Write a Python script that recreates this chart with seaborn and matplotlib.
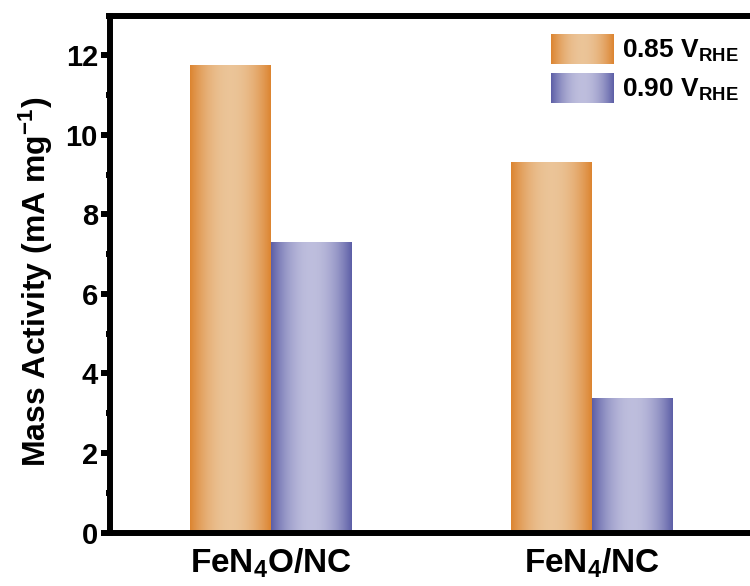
import numpy as np
import pandas as pd
import matplotlib
matplotlib.use("Agg")
import matplotlib.pyplot as plt
import seaborn as sns
from matplotlib.ticker import MultipleLocator
from matplotlib.legend_handler import HandlerBase
from matplotlib.image import BboxImage
from matplotlib.transforms import Bbox, TransformedBbox
from matplotlib.patches import Patch

# ---- data ----
catalysts = ["FeN$_4$O/NC", "FeN$_4$/NC"]
potentials = ["0.85 V$_{RHE}$", "0.90 V$_{RHE}$"]
activity_085 = [11.74, 9.28]
activity_090 = [7.27, 3.35]

df = pd.DataFrame({
    "catalyst": catalysts * 2,
    "potential": [potentials[0]] * 2 + [potentials[1]] * 2,
    "activity": activity_085 + activity_090,
})

# edge (dark) and centre (light) colours of the shaded bars
dark = {potentials[0]: (0.863, 0.518, 0.188), potentials[1]: (0.361, 0.369, 0.651)}
light = {potentials[0]: (0.922, 0.769, 0.596), potentials[1]: (0.745, 0.745, 0.867)}


def shade(pot, n=256):
    u = np.linspace(0, 1, n)
    t = np.abs(2 * u - 1) ** 2.0
    d = np.array(dark[pot])
    l = np.array(light[pot])
    cols = l[None, :] + (d - l)[None, :] * t[:, None]
    return cols[None, :, :]


sns.set_theme(style="white")
plt.rcParams["font.family"] = ["Liberation Sans", "DejaVu Sans"]
plt.rcParams["font.weight"] = "bold"
plt.rcParams["text.color"] = "black"
plt.rcParams["axes.labelcolor"] = "black"
plt.rcParams["xtick.color"] = "black"
plt.rcParams["ytick.color"] = "black"
plt.rcParams["mathtext.fontset"] = "custom"
plt.rcParams["mathtext.rm"] = "Liberation Sans:bold"
plt.rcParams["mathtext.bf"] = "Liberation Sans:bold"
plt.rcParams["mathtext.it"] = "Liberation Sans:bold"
plt.rcParams["mathtext.sf"] = "Liberation Sans:bold"
plt.rcParams["mathtext.default"] = "rm"

fig = plt.figure(figsize=(7.5, 5.86), dpi=100)
ax = fig.add_axes([110 / 750, (586 - 532.5) / 586, 642 / 750, 517 / 586])

sns.barplot(data=df, x="catalyst", y="activity", hue="potential",
            hue_order=potentials, order=catalysts,
            palette=[dark[p] for p in potentials], width=0.5, gap=0,
            linewidth=0, saturation=1, ax=ax, legend=False)

# overlay a horizontal shading on every bar
for container, pot in zip(ax.containers, potentials):
    for bar in container:
        x0 = bar.get_x()
        w = bar.get_width()
        h = bar.get_height()
        ax.imshow(shade(pot), extent=(x0, x0 + w, 0, h), aspect="auto",
                  interpolation="bilinear", zorder=bar.get_zorder() + 0.1)

ax.set_xlim(-0.5, 1.5)
ax.set_ylim(0, 13)
ax.yaxis.set_major_locator(MultipleLocator(2))
ax.yaxis.set_minor_locator(MultipleLocator(1))

for side in ["left", "bottom", "top"]:
    ax.spines[side].set_linewidth(4.3)
    ax.spines[side].set_color("black")
ax.spines["right"].set_visible(False)

ax.tick_params(axis="y", which="major", direction="out", length=6.7, width=4.3,
               labelsize=21, pad=2, left=True, colors="black")
ax.tick_params(axis="y", which="minor", direction="out", length=3, width=4.3,
               left=True, colors="black")
ax.tick_params(axis="x", which="both", length=0, labelsize=24, pad=10, colors="black")
for lab in ax.get_yticklabels() + ax.get_xticklabels():
    lab.set_fontweight("bold")

ax.set_xlabel("")
ax.set_ylabel("Mass Activity (mA mg$^{-1}$)", fontsize=23, fontweight="bold",
              color="black")
ax.yaxis.set_label_coords(-0.086, 0.485)


class GradientHandler(HandlerBase):
    def __init__(self, pot):
        super().__init__()
        self.pot = pot

    def create_artists(self, legend, orig_handle, xdescent, ydescent,
                       width, height, fontsize, trans):
        bb = TransformedBbox(Bbox.from_bounds(-xdescent, -ydescent, width, height), trans)
        img = BboxImage(bb, interpolation="bilinear")
        img.set_data(shade(self.pot))
        return [img]


handles = [Patch(facecolor=dark[p]) for p in potentials]
hmap = {h: GradientHandler(p) for h, p in zip(handles, potentials)}
leg = fig.legend(handles, potentials, handler_map=hmap, loc="upper left",
                 bbox_to_anchor=(551 / 750, 1 - 34 / 586), frameon=False,
                 prop={"size": 19, "weight": "bold"}, handlelength=2.35,
                 handleheight=1.37, handletextpad=0.34, labelspacing=0.33,
                 borderpad=0, borderaxespad=0)
for t in leg.get_texts():
    t.set_color("black")

fig.savefig("out.png", dpi=100)
